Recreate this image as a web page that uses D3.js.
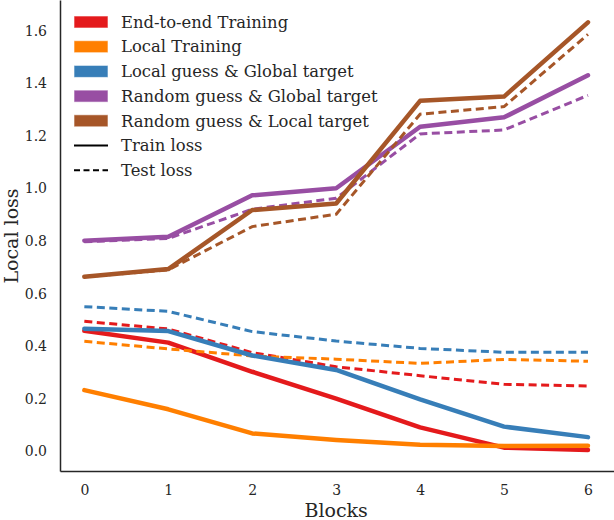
<!DOCTYPE html>
<html>
<head>
<meta charset="utf-8">
<script src="https://cdn.jsdelivr.net/npm/d3@7"></script>
<style>
  body { margin: 0; background: #fff; }
  svg { display: block; font-family: 'DejaVu Serif', serif; }
</style>
</head>
<body>
<div id="chart"></div>
<script>
// Local loss per block
const blocks = [0, 1, 2, 3, 4, 5, 6];
const yTicks = [0.0, 0.2, 0.4, 0.6, 0.8, 1.0, 1.2, 1.4, 1.6];

const methods = ['End-to-end Training', 'Local Training', 'Local guess & Global target',
  'Random guess & Global target', 'Random guess & Local target'];
const colors = ['#e41a1c', '#ff7f00', '#377eb8', '#984ea3', '#a65628'];

const e2eTrain   = [0.458, 0.413, 0.302, 0.200, 0.090, 0.013, 0.004];
const e2eTest    = [0.494, 0.465, 0.375, 0.321, 0.287, 0.254, 0.248];
const localTrain = [0.232, 0.159, 0.067, 0.042, 0.024, 0.019, 0.020];
const localTest  = [0.418, 0.389, 0.362, 0.350, 0.334, 0.349, 0.342];
const lgGtTrain  = [0.466, 0.457, 0.364, 0.309, 0.197, 0.093, 0.053];
const lgGtTest   = [0.550, 0.532, 0.455, 0.419, 0.391, 0.376, 0.376];
const rgGtTrain  = [0.801, 0.816, 0.974, 1.001, 1.235, 1.271, 1.431];
const rgGtTest   = [0.797, 0.810, 0.921, 0.963, 1.208, 1.223, 1.355];
const rgLtTrain  = [0.664, 0.693, 0.918, 0.943, 1.334, 1.350, 1.633];
const rgLtTest   = [0.664, 0.690, 0.855, 0.902, 1.283, 1.312, 1.587];

const trainSeries = [e2eTrain, localTrain, lgGtTrain, rgGtTrain, rgLtTrain];
const testSeries  = [e2eTest, localTest, lgGtTest, rgGtTest, rgLtTest];

const width = 614, height = 520;
const margin = { top: 0, right: 0, bottom: 49, left: 60 };
const ink = '#262626';

const svg = d3.select('#chart').append('svg')
  .attr('width', width)
  .attr('height', height);

const x = d3.scaleLinear().domain([-0.29, 6.31]).range([margin.left, width - margin.right]);
const y = d3.scaleLinear().domain([-0.076, 1.718]).range([height - margin.bottom, margin.top]);

// Axes (seaborn white style: no tick marks, left + bottom spines)
const xAxis = svg.append('g')
  .attr('transform', `translate(0,${height - margin.bottom})`)
  .call(d3.axisBottom(x).tickValues(blocks).tickFormat(d3.format('d')).tickSize(0).tickPadding(14));
const yAxis = svg.append('g')
  .attr('transform', `translate(${margin.left},0)`)
  .call(d3.axisLeft(y).tickValues(yTicks).tickFormat(d3.format('.1f')).tickSize(0).tickPadding(13));

[xAxis, yAxis].forEach(a => {
  a.select('.domain').attr('stroke', ink).attr('stroke-width', 1.5);
  a.selectAll('text').attr('fill', ink).attr('font-size', 14).attr('font-family', 'DejaVu Serif');
});

svg.append('text')
  .attr('x', (x(0) + x(6)) / 2)
  .attr('y', 517)
  .attr('text-anchor', 'middle')
  .attr('font-size', 19)
  .attr('fill', ink)
  .text('Blocks');

svg.append('text')
  .attr('transform', `translate(18,236) rotate(-90)`)
  .attr('text-anchor', 'middle')
  .attr('font-size', 19)
  .attr('fill', ink)
  .text('Local loss');

const line = d3.line().x((d, i) => x(blocks[i])).y(d => y(d));

const plot = svg.append('g');
methods.forEach((m, k) => {
  plot.append('path')
    .datum(testSeries[k])
    .attr('d', line)
    .attr('fill', 'none')
    .attr('stroke', colors[k])
    .attr('stroke-width', 3)
    .attr('stroke-dasharray', '8,4.5');
  plot.append('path')
    .datum(trainSeries[k])
    .attr('d', line)
    .attr('fill', 'none')
    .attr('stroke', colors[k])
    .attr('stroke-width', 4.5)
    .attr('stroke-linejoin', 'round')
    .attr('stroke-linecap', 'round');
});

// Legend
const legendItems = methods.map((m, k) => ({ label: m, type: 'patch', color: colors[k] }))
  .concat([{ label: 'Train loss', type: 'solid' }, { label: 'Test loss', type: 'dashed' }]);

const legend = svg.append('g').attr('transform', 'translate(74,22)');
const row = legend.selectAll('g').data(legendItems).join('g')
  .attr('transform', (d, i) => `translate(0,${i * 24.7})`);

row.filter(d => d.type === 'patch').append('rect')
  .attr('x', 0).attr('y', -6).attr('width', 34).attr('height', 12)
  .attr('fill', d => d.color)
  .attr('stroke', '#fff').attr('stroke-opacity', 0.6).attr('stroke-width', 1);

row.filter(d => d.type !== 'patch').append('line')
  .attr('x1', 0).attr('x2', 34).attr('y1', 0).attr('y2', 0)
  .attr('stroke', '#000').attr('stroke-width', 2)
  .attr('stroke-dasharray', d => d.type === 'dashed' ? '6,3.5' : null);

row.append('text')
  .attr('x', 47).attr('y', 0).attr('dy', '0.35em')
  .attr('font-size', 16.4)
  .attr('fill', ink)
  .text(d => d.label);
</script>
</body>
</html>
